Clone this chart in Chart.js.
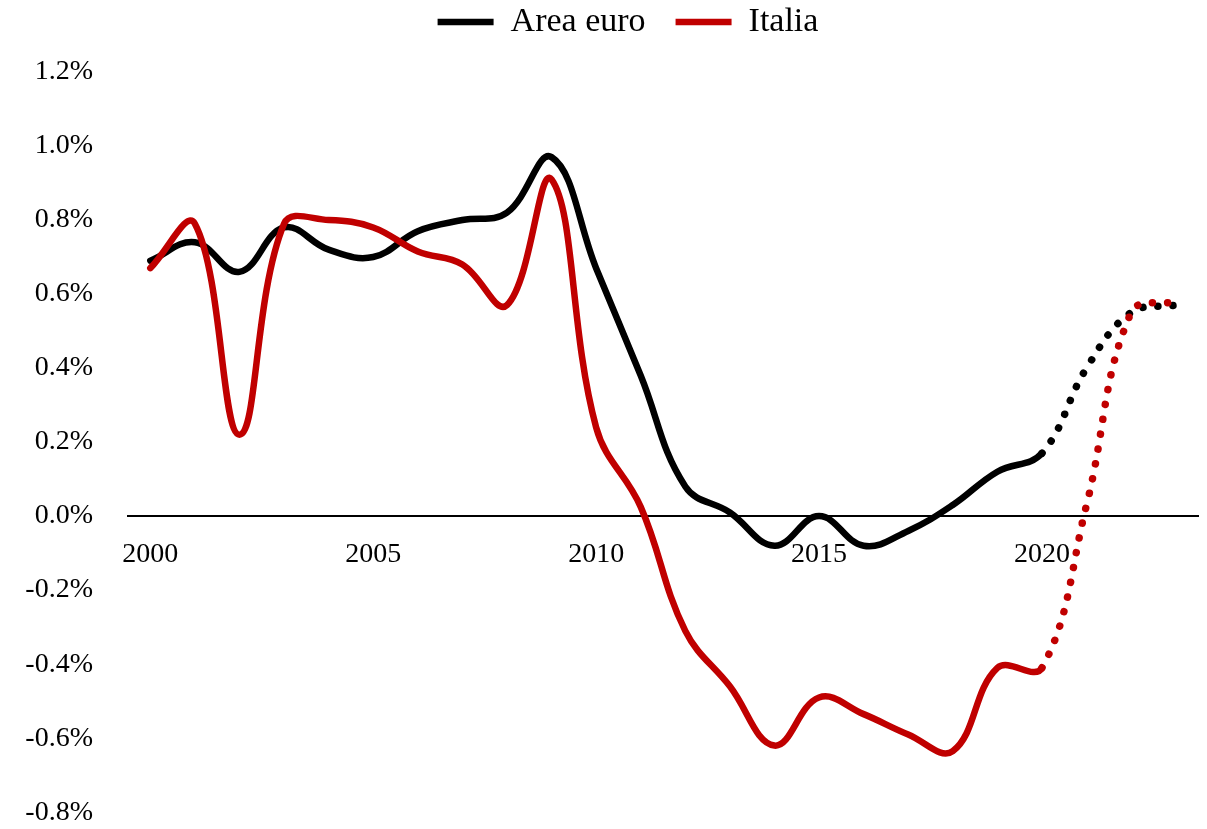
<!DOCTYPE html>
<html>
<head>
<meta charset="utf-8">
<script src="https://cdn.jsdelivr.net/npm/chart.js@4"></script>
<style>
  html, body { margin: 0; padding: 0; background: #ffffff; }
  canvas { display: block; }
</style>
</head>
<body>
<canvas id="chart" width="1207" height="829"></canvas>
<script>
const years = [2000, 2001, 2002, 2003, 2004, 2005, 2006, 2007, 2008, 2009, 2010, 2011,
               2012, 2013, 2014, 2015, 2016, 2017, 2018, 2019, 2020, 2021, 2022, 2023];

const areaEuro = [0.69, 0.74, 0.66, 0.78, 0.72, 0.70, 0.77, 0.80, 0.82, 0.97, 0.67, 0.38,
                  0.08, 0.01, -0.08, 0.0, -0.08, -0.04, 0.03, 0.12, 0.17, 0.40, 0.55, 0.57];

const italia = [0.67, 0.79, 0.22, 0.79, 0.80, 0.78, 0.715, 0.68, 0.57, 0.91, 0.24, 0.025,
                -0.31, -0.46, -0.62, -0.49, -0.535, -0.59, -0.635, -0.41, -0.41, 0.03, 0.55, 0.58];

// forecast years start after this index (drawn dotted)
const lastActual = 20;

const serif = '"Liberation Serif", "Times New Roman", serif';

const isForecast = (ctx) => ctx.p0DataIndex >= lastActual;

const lineStyle = {
    borderWidth: 6.5,
    borderCapStyle: 'round',
    borderJoinStyle: 'round',
    pointRadius: 0,
    tension: 0.4,
    fill: false,
    segment: {
        borderDash: (ctx) => isForecast(ctx) ? [0.1, 15] : undefined,
        borderWidth: (ctx) => isForecast(ctx) ? 7.5 : undefined
    }
};

// legend sits higher and a bit to the right of where chart.js puts it
const legendShift = {
    id: 'legendShift',
    beforeInit(chart) {
        const fit = chart.legend.fit;
        chart.legend.fit = function () {
            fit.call(this);
            this.height += 23;
        };
    },
    afterLayout(chart) {
        chart.legend.left += 19;
        chart.legend.right += 19;
    }
};

new Chart(document.getElementById('chart'), {
    type: 'line',
    data: {
        labels: years,
        datasets: [
            {
                ...lineStyle,
                label: 'Area euro',
                data: areaEuro,
                borderColor: '#000000',
                backgroundColor: '#000000',
                order: 1
            },
            {
                ...lineStyle,
                label: 'Italia',
                data: italia,
                borderColor: '#C00000',
                backgroundColor: '#C00000',
                order: 0
            }
        ]
    },
    plugins: [legendShift],
    options: {
        responsive: false,
        animation: false,
        layout: {
            padding: { top: -25, bottom: 14, left: 20, right: 9 }
        },
        plugins: {
            tooltip: { enabled: false },
            legend: {
                position: 'top',
                labels: {
                    usePointStyle: true,
                    pointStyle: 'line',
                    pointStyleWidth: 56,
                    boxHeight: 8,
                    padding: 30,
                    color: '#000000',
                    font: { family: serif, size: 34 },
                    sort: (a, b) => a.datasetIndex - b.datasetIndex
                }
            }
        },
        scales: {
            x: {
                position: { y: 0 },
                offset: true,
                grid: { display: false, drawTicks: false },
                border: { display: true, color: '#000000', width: 2 },
                afterFit: (scale) => { scale.height = 0; },
                ticks: {
                    autoSkip: false,
                    maxRotation: 0,
                    padding: 22,
                    color: '#000000',
                    font: { family: serif, size: 28 },
                    callback: function (value, index) {
                        const y = years[index];
                        return y % 5 === 0 ? String(y) : '';
                    }
                }
            },
            y: {
                min: -0.8,
                max: 1.2,
                grid: { display: false, drawTicks: true, tickLength: 35 },
                border: { display: false },
                afterFit: (scale) => { scale.width = 108; },
                ticks: {
                    stepSize: 0.2,
                    padding: 0,
                    color: '#000000',
                    font: { family: serif, size: 28 },
                    callback: (v) => v.toFixed(1) + '%'
                }
            }
        }
    }
});
</script>
</body>
</html>
